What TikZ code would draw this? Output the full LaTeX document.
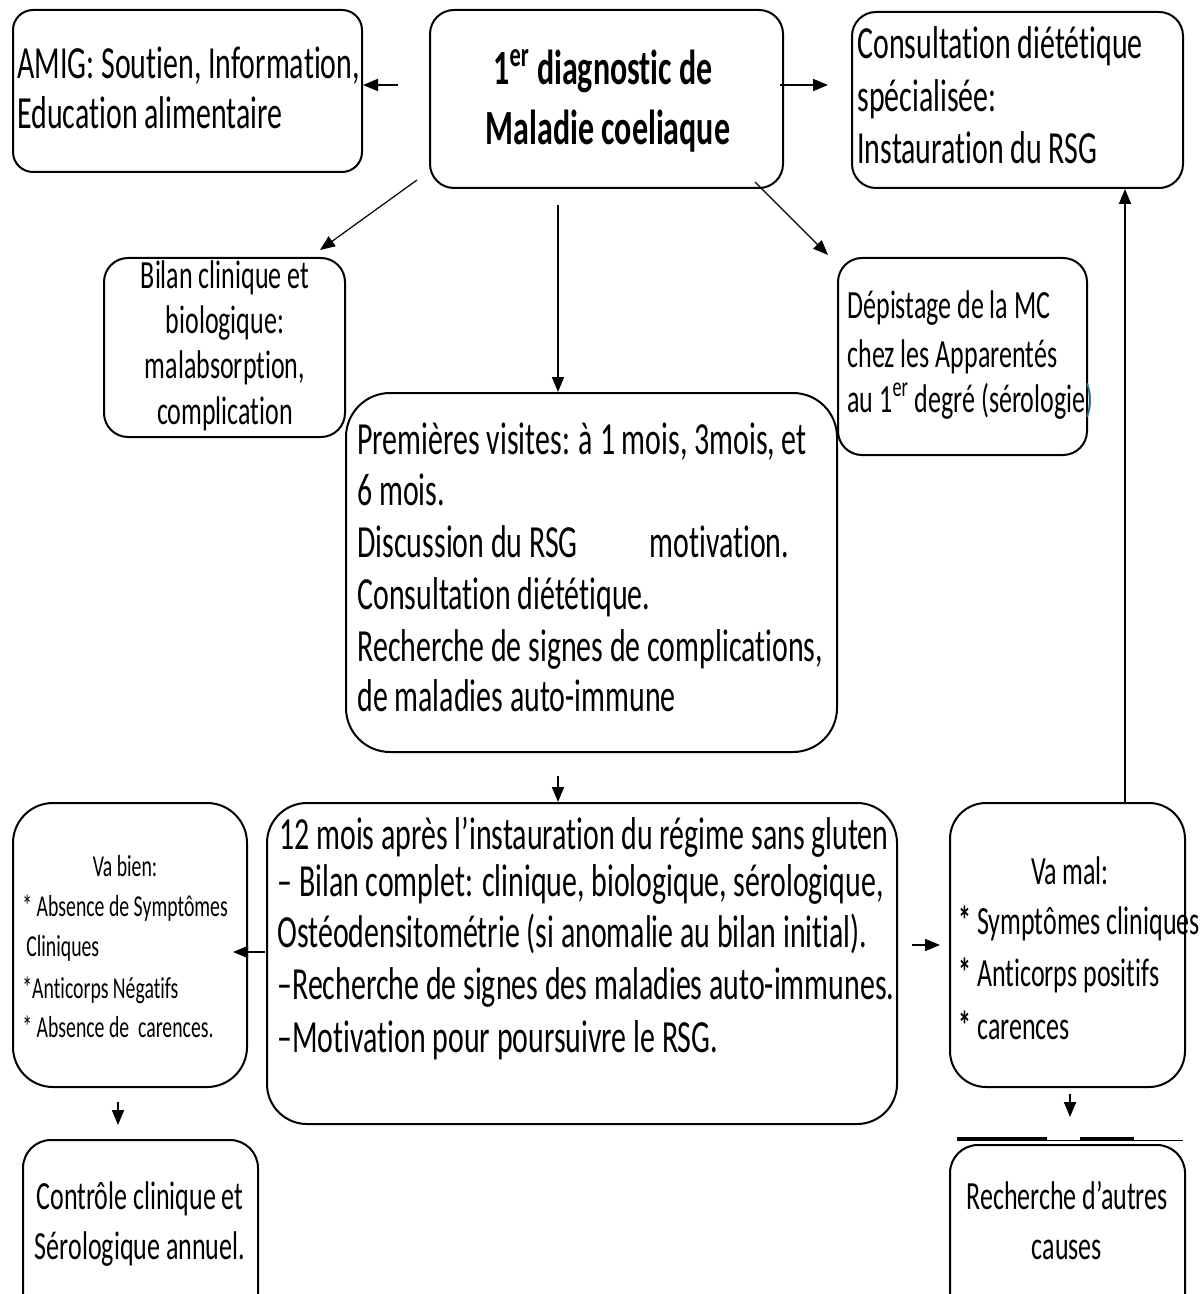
\documentclass[tikz,border=0pt]{standalone}
\usepackage{fontspec}
\setmainfont[FakeStretch=0.65,Ligatures=NoCommon]{Carlito}
\usetikzlibrary{arrows.meta,fit}
\begin{document}
\begin{tikzpicture}[x=0.5pt,y=-0.5pt,
  box/.style={draw,line width=1pt,inner sep=0pt,rounded corners=#1},
  box/.default=12pt,
  arr/.style={line width=0.9pt,-{Triangle[length=7.5pt,width=6pt]}},
  thinarr/.style={line width=0.6pt,-{Triangle[length=7.5pt,width=6pt]}},
  txt/.style={inner sep=0pt,anchor=base west},
  ctxt/.style={inner sep=0pt,anchor=base},
  tbig/.style={font=\fontsize{23}{25}\selectfont},
  tmid/.style={font=\fontsize{20}{22}\selectfont},
  tsml/.style={font=\fontsize{15.2}{17}\selectfont},
  tmain/.style={font=\fontsize{24.6}{27}\selectfont\bfseries},
]
\path[use as bounding box] (0,0) rectangle (1200,1294);
\clip (0,0) rectangle (1200,1294);
\fill[white] (0,0) rectangle (1200,1294);

% ---------- boxes ----------
\node[box=10pt, fit={(13,10) (362,172)}] (amig) {};
\node[box=12pt, fit={(430,10) (783,188)}] (main) {};
\node[box=12pt, fit={(852,12) (1183,188)}] (cons) {};
\node[box=12pt, fit={(104,258) (345,437)}] (bilan) {};
\node[box=12pt, fit={(838,258) (1087,455)}] (dep) {};
\node[box=22pt, fit={(346,393) (837,752)}] (prem) {};
\node[box=20pt, fit={(267,803) (897,1124)}] (twelve) {};
\node[box=20pt, fit={(13,803) (247,1087)}] (vabien) {};
\node[box=18pt, fit={(950,803) (1185,1087)}] (vamal) {};
\node[box=14pt, fit={(23,1140) (258,1340)}] (ctrl) {};
\node[box=14pt, fit={(950,1145) (1185,1340)}] (rech) {};

% lines above the last box
\draw[line width=0.5pt] (957,1140) -- (1183,1140);
\draw[line width=1.5pt] (957,1138) -- (1047,1138);
\draw[line width=1.5pt] (1080,1138) -- (1134,1138);

% ---------- texts ----------
\node[txt,tbig] (amig1) at (17,79) {AMIG: Soutien, Information,};
\node[txt,tbig] (amig2) at (17,129) {Education alimentaire};

\node[ctxt,tmain] (main1) at (603,85) {1\textsuperscript{er} diagnostic de};
\node[ctxt,tmain] (main2) at (608,145) {Maladie coeliaque};

\node[txt,tbig] (cons1) at (857,59) {Consultation diététique};
\node[txt,tbig] (cons2) at (857,112) {spécialisée:};
\node[txt,tbig] (cons3) at (857,164) {Instauration du RSG};

\node[ctxt,tmid] (bil1) at (225,289) {Bilan clinique et};
\node[ctxt,tmid] (bil2) at (225,334) {biologique:};
\node[ctxt,tmid] (bil3) at (225,379) {malabsorption,};
\node[ctxt,tmid] (bil4) at (225,424) {complication};

\node[txt,tmid] (dep1) at (847,319) {Dépistage de la MC};
\node[txt,tmid] (dep2) at (847,367) {chez les Apparentés};
\node[txt,tmid] (dep3) at (847,412) {au 1\textsuperscript{er} degré (sérologie\textcolor[RGB]{30,110,150}{)}};

\node[txt,tbig] (prem1) at (357,454) {Premières visites: à 1 mois, 3mois, et};
\node[txt,tbig] (prem2) at (357,505) {6 mois.};
\node[txt,tbig] (prem3) at (357,557) {Discussion du RSG\hspace{36pt}motivation.};
\node[txt,tbig] (prem4) at (357,609) {Consultation diététique.};
\node[txt,tbig] (prem5) at (357,661) {Recherche de signes de complications,};
\node[txt,tbig] (prem6) at (357,711) {de maladies auto-immune};

\node[txt,tbig] (tw1) at (279,849) {12 mois après l’instauration du régime sans gluten};
\node[txt,tbig] (tw2) at (277,896) {– Bilan complet: clinique, biologique, sérologique,};
\node[txt,tbig] (tw3) at (277,947) {Ostéodensitométrie (si anomalie au bilan initial).};
\node[txt,tbig] (tw4) at (277,999) {–Recherche de signes des maladies auto-immunes.};
\node[txt,tbig] (tw5) at (277,1052) {–Motivation pour poursuivre le RSG.};

\node[ctxt,tsml] (vb1) at (125,876) {Va bien:};
\node[txt,tsml] (vb2) at (22,916) {* Absence de Symptômes};
\node[txt,tsml] (vb3) at (26,956) {Cliniques};
\node[txt,tsml] (vb4) at (22,998) {*Anticorps Négatifs};
\node[txt,tsml] (vb5) at (22,1037) {* Absence de\ \ carences.};

\node[ctxt,tmid] (vm1) at (1070,884) {Va mal:};
\node[txt,tmid] (vm2) at (958,934) {\textbf{*} Symptômes cliniques};
\node[txt,tmid] (vm3) at (958,986) {\textbf{*} Anticorps positifs};
\node[txt,tmid] (vm4) at (958,1039) {\textbf{*} carences};

\node[ctxt,tmid] (ct1) at (140,1209) {Contrôle clinique et};
\node[ctxt,tmid] (ct2) at (140,1259) {Sérologique annuel.};

\node[ctxt,tmid] (re1) at (1067,1209) {Recherche d’autres};
\node[ctxt,tmid] (re2) at (1067,1259) {causes};

% ---------- connectors ----------
\coordinate (pA) at (398,85);
\draw[arr] (pA) -- (pA -| amig.east);
\coordinate (pB1) at (780,85);
\coordinate (pB2) at (828,85);
\draw[arr] (pB1) -- (pB2);
\coordinate (pC1) at (417,180);
\coordinate (pC2) at (320,250);
\draw[thinarr] (pC1) -- (pC2);
\coordinate (pD1) at (558,205);
\draw[arr] (pD1) -- (pD1 |- prem.north);
\coordinate (pE1) at (755,182);
\coordinate (pE2) at (828,255);
\draw[thinarr] (pE1) -- (pE2);
\coordinate (pF1) at (558,776);
\draw[arr] (pF1) -- (pF1 |- twelve.north);
\coordinate (pG1) at (265,952);
\coordinate (pG2) at (233,952);
\draw[arr] (pG1) -- (pG2);
\coordinate (pH1) at (912,945);
\coordinate (pH2) at (940,945);
\draw[arr] (pH1) -- (pH2);
\coordinate (pI1) at (1125,803);
\draw[arr] (pI1) -- (pI1 |- cons.south);
\coordinate (pJ1) at (118,1102);
\coordinate (pJ2) at (118,1125);
\draw[arr] (pJ1) -- (pJ2);
\coordinate (pK1) at (1070,1094);
\coordinate (pK2) at (1070,1117);
\draw[arr] (pK1) -- (pK2);
\end{tikzpicture}
\end{document}
